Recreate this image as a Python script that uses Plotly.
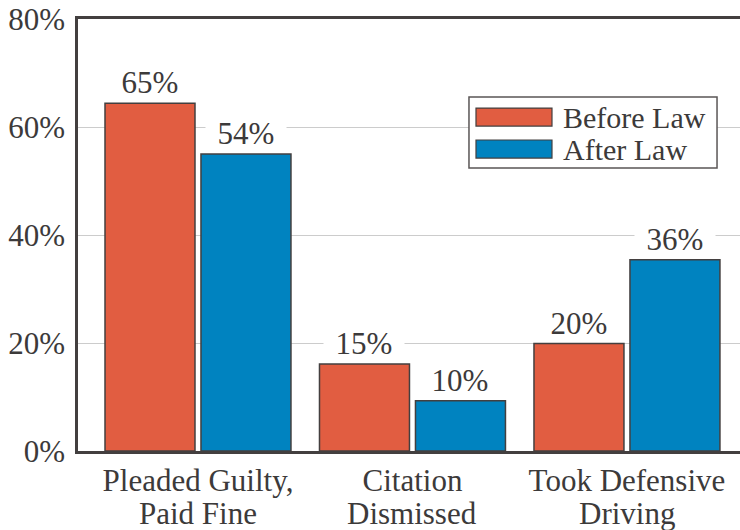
import plotly.graph_objects as go

categories = ["Pleaded Guilty,<br>Paid Fine", "Citation<br>Dismissed", "Took Defensive<br>Driving"]
series_names = ["Before Law", "After Law"]
before_values = [64.4, 16.1, 19.9]
after_values = [55.0, 9.3, 35.4]
before_labels = ["65%", "15%", "20%"]
after_labels = ["54%", "10%", "36%"]
y_ticks = [0, 20, 40, 60, 80]
y_tick_labels = ["0%", "20%", "40%", "60%", "80%"]

colors = ["#E15D41", "#0083C0"]
text_color = "#3c3a3a"
line_color = "#433f3f"
FONT = "Liberation Serif, Times New Roman, serif"
FS = 31

bargap = 0.105
bargroupgap = 0.0625
slot = (1 - bargap) / 2

x_idx = list(range(len(categories)))
cat_first = [c.split("<br>")[0] for c in categories]
cat_second = [c.split("<br>")[1] if "<br>" in c else "" for c in categories]

fig = go.Figure()
for name, vals, col in [(series_names[0], before_values, colors[0]),
                        (series_names[1], after_values, colors[1])]:
    fig.add_trace(go.Bar(
        x=x_idx, y=vals, name=name,
        marker=dict(color=col, line=dict(color=line_color, width=1.5)),
        hoverinfo="skip", showlegend=False,
    ))

annotations = []
# value labels (white background breaks the gridlines like the reference)
for k, (vals, labs) in enumerate([(before_values, before_labels), (after_values, after_labels)]):
    off = (k - 0.5) * slot
    for i, (v, lab) in enumerate(zip(vals, labs)):
        annotations.append(dict(
            x=i + off, y=v, xref="x", yref="y", text=lab, showarrow=False,
            yanchor="bottom", yshift=2, bgcolor="white", borderpad=0, width=80,
            font=dict(family=FONT, size=FS, color=text_color),
        ))
# second line of category labels (tighter line spacing than plotly's <br>)
for i, t in enumerate(cat_second):
    annotations.append(dict(
        x=i, y=0, xref="x", yref="y", text=t, showarrow=False,
        yanchor="top", yshift=-43,
        font=dict(family=FONT, size=FS, color=text_color),
    ))

# legend drawn as a framed box with wide swatches
LX0, LX1, LY0, LY1 = 0.5906, 0.9653, 0.655, 0.8194
shapes = [dict(type="rect", xref="paper", yref="paper", x0=LX0, x1=LX1, y0=LY0, y1=LY1,
               line=dict(color="#5a5656", width=1.5), fillcolor="white", layer="above")]
sw_x0, sw_x1 = 0.6012, 0.7160
row_y = [0.773, 0.699]
sw_h = 0.0417
for name, col, yc in zip(series_names, colors, row_y):
    shapes.append(dict(type="rect", xref="paper", yref="paper",
                       x0=sw_x0, x1=sw_x1, y0=yc - sw_h / 2, y1=yc + sw_h / 2,
                       line=dict(color=line_color, width=1.2), fillcolor=col, layer="above"))
    annotations.append(dict(
        x=0.7296, y=yc, xref="paper", yref="paper", text=name, showarrow=False,
        xanchor="left", yanchor="middle",
        font=dict(family=FONT, size=30, color=text_color),
    ))

fig.update_layout(
    width=740, height=530,
    margin=dict(l=78, r=0, t=19, b=79),
    paper_bgcolor="white", plot_bgcolor="white",
    barmode="group", bargap=bargap, bargroupgap=bargroupgap,
    font=dict(family=FONT, size=FS, color=text_color),
    showlegend=False,
    annotations=annotations,
    shapes=shapes,
    xaxis=dict(
        range=[-0.5594, 2.527], tickmode="array", tickvals=x_idx, ticktext=cat_first,
        showline=True, linecolor=line_color, linewidth=2.5, mirror=True,
        showgrid=False, ticks="", zeroline=False, automargin=False,
        ticklabeloverflow="allow",
        tickfont=dict(family=FONT, size=FS, color=text_color),
    ),
    yaxis=dict(
        range=[0, 80], tickmode="array", tickvals=y_ticks, ticktext=y_tick_labels,
        showline=True, linecolor=line_color, linewidth=2.5,
        showgrid=True, gridcolor="#cccccc", gridwidth=1,
        ticks="", zeroline=False, ticklabelstandoff=4, automargin=False,
        ticklabeloverflow="allow",
        tickfont=dict(family=FONT, size=FS, color=text_color),
    ),
)

# remove the browser's default 8px body margin so the figure sits at the window origin
fig.write_html("out.html", config={"displayModeBar": False},
               post_script="document.body.style.margin='0';")
